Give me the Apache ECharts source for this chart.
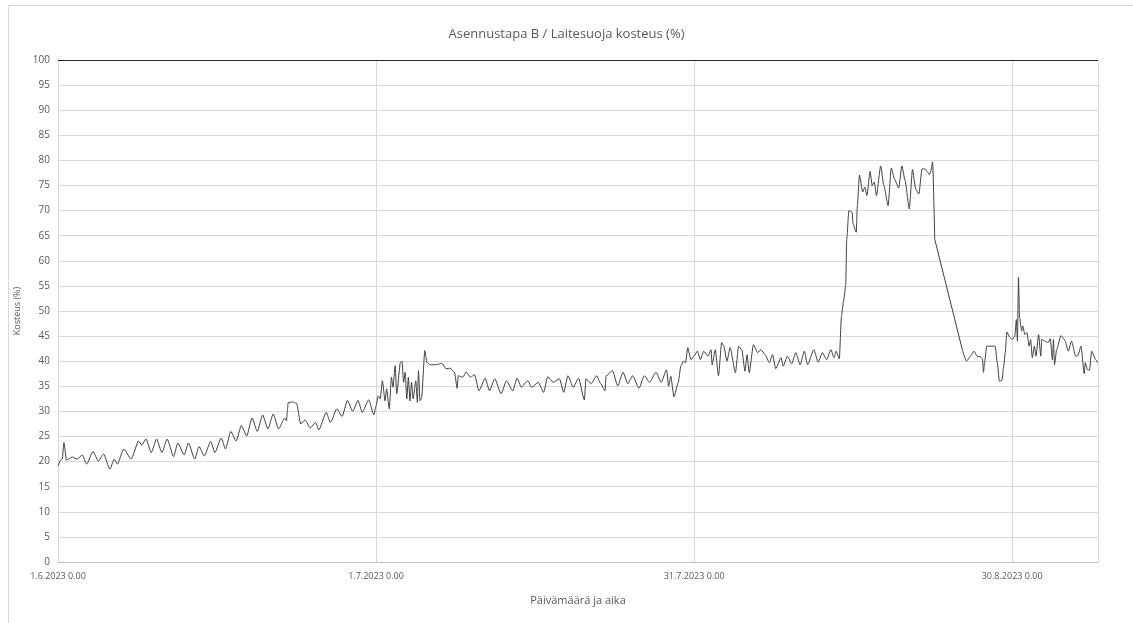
<!DOCTYPE html>
<html>
<head>
<meta charset="utf-8">
<script src="https://cdn.jsdelivr.net/npm/echarts@6/dist/echarts.min.js"></script>
<style>
  html, body { margin: 0; padding: 0; background: #fff; }
  #chart { width: 1133px; height: 623px; }
</style>
</head>
<body>
<div id="chart"></div>
<script>
  // päivät alkaen 1.6.2023 0.00
  const dayOffsets = [
    0, 0.25, 0.4, 0.56, 0.8, 1.35, 1.8, 2.3, 2.7, 3.3, 3.8, 4.3, 4.9, 5.3, 5.6, 6.2, 6.9, 7.6, 7.9, 8.3,
    8.8, 9.3, 9.8, 10.3, 10.9, 11.3, 11.9, 12.3, 12.9, 13.3, 13.8, 14.4, 14.8, 15.4, 15.8, 16.3, 16.8, 17.3, 17.8, 18.3,
    18.8, 19.3, 19.8, 20.3, 20.8, 21.4, 21.55, 21.65, 21.7, 22.1, 22.5, 22.9, 23.3, 23.8, 24.3, 24.6, 25.3, 25.7, 26.3, 26.8,
    27.3, 27.8, 28.3, 28.7, 29.3, 29.8, 30.0, 30.2, 30.4, 30.6, 30.85, 31.0, 31.25, 31.45, 31.6, 31.8, 31.95, 32.3, 32.45, 32.6,
    32.75, 32.9, 33.05, 33.2, 33.35, 33.5, 33.75, 33.9, 34.0, 34.15, 34.3, 34.6, 34.8, 35.1, 35.7, 36.2, 36.6, 37.0, 37.4, 37.65,
    37.75, 38.2, 38.5, 38.9, 39.3, 39.7, 40.3, 40.7, 41.2, 41.8, 42.3, 42.9, 43.3, 43.7, 44.3, 44.7, 45.3, 45.8, 46.2, 46.7,
    47.3, 47.7, 48.1, 48.6, 49.1, 49.65, 49.8, 50.3, 50.8, 51.2, 51.6, 51.7, 52.3, 52.8, 53.3, 53.75, 54.2, 54.8, 55.3, 55.8,
    56.4, 56.9, 57.4, 57.6, 57.8, 58.1, 58.5, 58.75, 59.0, 59.2, 59.4, 59.7, 60.0, 60.3, 60.6, 60.9, 61.3, 61.6, 61.7, 62.0,
    62.3, 62.6, 62.8, 63.1, 63.4, 63.9, 64.2, 64.5, 64.8, 65.0, 65.2, 65.6, 66.0, 66.3, 66.7, 67.1, 67.4, 67.7, 68.2, 68.4,
    68.8, 69.2, 69.6, 70.0, 70.4, 70.7, 71.3, 71.7, 72.1, 72.5, 72.9, 73.2, 73.4, 73.7, 73.9, 74.1, 74.3, 74.4, 74.6, 74.9,
    75.0, 75.3, 75.4, 75.6, 75.9, 76.1, 76.3, 76.6, 76.8, 77.0, 77.2, 77.6, 77.9, 78.3, 78.6, 78.9, 79.3, 79.6, 79.9, 80.3,
    80.6, 80.9, 81.2, 81.5, 81.8, 82.0, 82.2, 82.35, 82.5, 82.7, 85.3, 85.7, 86.1, 86.4, 86.7, 87.0, 87.2, 87.3, 87.4, 87.6,
    88.4, 88.6, 88.8, 89.05, 89.2, 89.35, 89.5, 89.8, 90.0, 90.25, 90.4, 90.5, 90.6, 90.7, 90.9, 91.0, 91.2, 91.4, 91.6, 91.75,
    91.9, 92.1, 92.25, 92.5, 92.7, 92.8, 93.1, 93.4, 93.6, 93.8, 93.9, 94.0, 94.2, 94.6, 94.8, 95.0, 95.3, 95.6, 96.0, 96.2,
    96.5, 96.8, 96.9, 97.1, 97.3, 97.5, 97.9, 98.05
  ];

  const humidity = [
    19.1, 20.3, 20.5, 23.8, 20.3, 20.9, 20.5, 21.3, 19.5, 22.0, 20.1, 21.5, 18.5, 20.5, 19.5, 22.5, 20.5, 24.1, 23.3, 24.5,
    21.8, 24.5, 21.8, 24.5, 21.0, 23.7, 21.3, 23.7, 20.5, 23.0, 21.1, 24.0, 21.8, 24.7, 22.5, 26.0, 24.1, 27.2, 25.1, 28.7,
    26.0, 29.3, 26.5, 29.5, 26.5, 28.7, 28.1, 30.3, 31.7, 31.9, 31.6, 27.5, 28.3, 26.7, 27.8, 26.3, 29.8, 27.8, 30.5, 29.0,
    32.2, 30.0, 32.2, 29.8, 32.3, 29.3, 31.1, 33.1, 32.5, 36.1, 32.1, 34.5, 30.5, 36.8, 34.8, 39.1, 33.5, 39.8, 40.0, 35.8,
    37.8, 32.5, 36.8, 32.1, 35.8, 32.5, 36.1, 31.8, 38.1, 32.1, 32.8, 42.1, 39.8, 39.3, 39.3, 39.6, 38.5, 38.6, 37.8, 34.6,
    37.1, 36.8, 37.9, 36.8, 37.3, 34.1, 36.6, 34.1, 36.5, 33.5, 36.1, 34.1, 36.6, 34.8, 36.1, 34.8, 35.8, 33.8, 36.9, 35.8,
    36.5, 33.8, 37.1, 34.8, 36.6, 32.3, 36.5, 35.5, 37.1, 35.5, 34.1, 37.1, 38.1, 35.1, 37.8, 35.5, 37.1, 34.6, 37.1, 35.8,
    37.8, 35.8, 38.3, 35.0, 37.0, 32.9, 35.7, 39.0, 40.0, 39.7, 42.7, 40.3, 41.0, 42.0, 40.3, 42.0, 41.0, 42.3, 39.3, 42.3,
    37.1, 43.7, 43.0, 40.0, 42.7, 37.7, 43.0, 42.3, 38.0, 41.3, 37.7, 43.3, 41.7, 42.3, 41.3, 39.7, 41.3, 38.5, 40.7, 39.0,
    41.0, 39.5, 41.7, 39.3, 42.0, 39.3, 42.3, 39.8, 41.7, 40.3, 42.3, 40.7, 42.0, 40.5, 49.0, 52.0, 55.0, 64.3, 70.0, 69.7,
    67.3, 65.7, 71.0, 77.1, 73.7, 74.7, 73.0, 77.8, 75.0, 75.7, 73.0, 78.9, 75.0, 71.0, 78.5, 76.3, 74.5, 78.9, 76.0, 70.3,
    78.2, 74.3, 73.3, 78.3, 78.3, 77.7, 77.2, 78.0, 79.7, 64.3, 42.3, 40.0, 41.1, 42.0, 41.0, 40.9, 40.5, 37.8, 39.7, 43.0,
    43.0, 39.7, 36.0, 36.2, 39.0, 41.7, 45.8, 44.7, 44.3, 45.0, 48.3, 44.0, 56.7, 48.7, 46.0, 47.0, 45.3, 45.7, 43.0, 44.3,
    40.7, 43.0, 41.0, 45.3, 41.0, 44.3, 44.0, 43.7, 44.5, 40.3, 44.3, 39.3, 42.3, 45.1, 44.7, 44.0, 42.0, 44.0, 41.0, 41.1,
    43.0, 37.5, 39.7, 38.3, 38.2, 42.0, 40.3, 39.7
  ];

  // mittauskatko: välillä vain suora viiva
  const gapStartDay = 82.7;
  const gapEndDay = 85.3;

  const startDate = Date.UTC(2023, 5, 1);
  const axisMaxDay = 98.1;

  function dayLabel(v) {
    let d = new Date(startDate + Math.round(v) * 86400000);
    return d.getUTCDate() + '.' + (d.getUTCMonth() + 1) + '.' + d.getUTCFullYear() + ' 0.00';
  }

  let smoothData = [];
  let gapData = [];
  dayOffsets.forEach((d, i) => {
    if (d === gapEndDay) smoothData.push([null, null]);
    smoothData.push([d, humidity[i]]);
    if (d === gapStartDay || d === gapEndDay) gapData.push([d, humidity[i]]);
  });

  let font = "'Open Sans', sans-serif";
  let chart = echarts.init(document.getElementById('chart'));

  let option = {
    animation: false,
    backgroundColor: '#fff',
    textStyle: { fontFamily: font },
    graphic: [{
      type: 'rect',
      shape: { x: 8.5, y: 5.5, width: 1140, height: 640 },
      style: { fill: 'none', stroke: '#d9d9d9', lineWidth: 1 },
      silent: true
    }],
    title: {
      text: 'Asennustapa B / Laitesuoja kosteus (%)',
      left: 'center',
      top: 23,
      textStyle: { fontFamily: font, fontSize: 13, fontWeight: 'normal', color: '#595959' }
    },
    grid: { left: 58, right: 35, top: 60, bottom: 61 },
    xAxis: {
      type: 'value',
      min: 0,
      max: axisMaxDay,
      interval: 30,
      name: 'Päivämäärä ja aika',
      nameLocation: 'middle',
      nameGap: 33,
      nameTextStyle: { fontFamily: font, fontSize: 11, color: '#595959' },
      axisLine: { show: true, lineStyle: { color: '#bfbfbf', width: 1 } },
      axisTick: { show: false },
      axisLabel: {
        fontFamily: font, fontSize: 9, color: '#595959', margin: 10,
        showMaxLabel: false,
        formatter: dayLabel
      },
      splitLine: { show: true, lineStyle: { color: '#d9d9d9', width: 1 } }
    },
    yAxis: {
      type: 'value',
      min: 0,
      max: 100,
      interval: 5,
      name: 'Kosteus (%)',
      nameLocation: 'middle',
      nameGap: 30,
      nameTextStyle: { fontFamily: font, fontSize: 9, color: '#595959' },
      axisLine: { show: true, lineStyle: { color: '#d9d9d9' } },
      axisTick: { show: false },
      axisLabel: { fontFamily: font, fontSize: 10, color: '#595959', margin: 8 },
      splitLine: { show: true, lineStyle: { color: '#d9d9d9', width: 1 } }
    },
    series: [
      {
        type: 'line',
        data: smoothData,
        showSymbol: false,
        smooth: 0.2,
        smoothMonotone: 'x',
        connectNulls: false,
        lineStyle: { color: '#404040', width: 1 },
        markLine: {
          silent: true,
          symbol: 'none',
          label: { show: false },
          lineStyle: { color: '#262626', type: 'solid', width: 1 },
          data: [{ yAxis: 100 }]
        }
      },
      {
        type: 'line',
        data: gapData,
        showSymbol: false,
        smooth: false,
        lineStyle: { color: '#404040', width: 1 }
      }
    ]
  };
  chart.setOption(option);
</script>
</body>
</html>
